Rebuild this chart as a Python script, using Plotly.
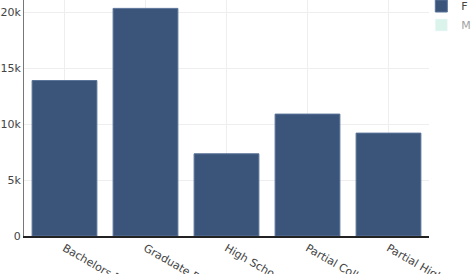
import plotly.graph_objects as go

categories = ["Bachelors Degree", "Graduate Degree", "High School", "Partial College", "Partial High School"]
f_values = [13900, 20350, 7350, 10900, 9200]
m_values = [13500, 19800, 7600, 10600, 9400]

fig = go.Figure()
fig.add_trace(go.Bar(name="F", x=categories, y=f_values,
                     marker=dict(color="#3a5579", line=dict(color="#5a7399", width=1))))
fig.add_trace(go.Bar(name="M", x=categories, y=m_values, visible="legendonly",
                     marker=dict(color="#b5ead8")))

fig.update_layout(
    width=473, height=274,
    margin=dict(l=24, r=44, t=0, b=38, autoexpand=False),
    paper_bgcolor="white", plot_bgcolor="white",
    font=dict(family="DejaVu Sans", size=11, color="#444"),
    bargap=0.2,
    showlegend=True,
    legend=dict(x=0.981, y=1.036, xanchor="left", yanchor="top", font=dict(size=11),
                itemwidth=30, borderwidth=0, bgcolor="rgba(0,0,0,0)"),
    xaxis=dict(tickangle=30, showgrid=True, gridcolor="#eeeeee",
               showline=True, linecolor="#222", linewidth=1.5, automargin=False, ticks=""),
    yaxis=dict(range=[0, 21100], tickvals=[0, 5000, 10000, 15000, 20000],
               ticktext=["0", "5k", "10k", "15k", "20k"],
               showgrid=True, gridcolor="#eeeeee", showline=True, linecolor="#777",
               linewidth=1, zeroline=False, automargin=False, ticks=""),
)

fig.write_html("out.html")
